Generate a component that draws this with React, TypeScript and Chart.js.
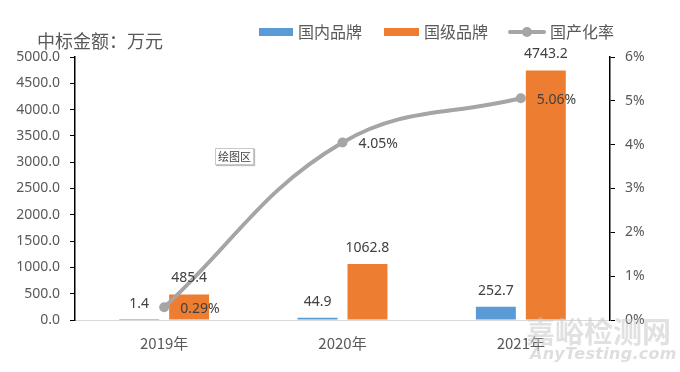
import React, { useEffect, useRef } from "react";
import { Chart, registerables } from "chart.js";

Chart.register(...registerables);

const categories = ["2019年", "2020年", "2021年"];
const domesticBrand = [1.4, 44.9, 252.7];
const nationalBrand = [485.4, 1062.8, 4743.2];
const localizationRate = [0.29, 4.05, 5.06];
const seriesNames = ["国内品牌", "国级品牌", "国产化率"];
const yTitle = "中标金额：万元";

const BLUE = "#5B9BD5";
const ORANGE = "#ED7D31";
const GRAY = "#A5A5A5";
const NUM_FONT = '"Noto Sans", "Open Sans", sans-serif';
const CJK_FONT = '"Noto Sans CJK SC", "Noto Sans", sans-serif';

const valueLabels = {
  id: "valueLabels",
  afterDatasetsDraw(chart: any) {
    const ctx = chart.ctx;
    ctx.save();
    ctx.font = `14px ${NUM_FONT}`;
    ctx.fillStyle = "#404040";
    ctx.textBaseline = "middle";
    chart.data.datasets.forEach((ds: any, i: number) => {
      const meta = chart.getDatasetMeta(i);
      meta.data.forEach((el: any, j: number) => {
        const v = ds.data[j];
        if (ds.type === "line") {
          ctx.textAlign = "left";
          ctx.fillText(v.toFixed(2) + "%", el.x + 16, el.y + 2);
        } else {
          ctx.textAlign = "center";
          ctx.fillText(v.toFixed(1), el.x, el.y - 16);
        }
      });
    });
    ctx.restore();
  },
};

const legendAndTitle = {
  id: "legendAndTitle",
  afterDraw(chart: any) {
    const ctx = chart.ctx;
    ctx.save();
    ctx.textBaseline = "middle";
    ctx.textAlign = "left";
    ctx.fillStyle = "#595959";
    ctx.font = `18px ${CJK_FONT}`;
    ctx.fillText(yTitle, 37, 41);

    ctx.font = `16px ${CJK_FONT}`;
    const y = 32;
    // item 1
    ctx.fillStyle = BLUE;
    ctx.fillRect(259, y - 4, 34, 8);
    ctx.fillStyle = "#595959";
    ctx.fillText(seriesNames[0], 298, y);
    // item 2
    ctx.fillStyle = ORANGE;
    ctx.fillRect(384, y - 4, 35, 8);
    ctx.fillStyle = "#595959";
    ctx.fillText(seriesNames[1], 424, y);
    // item 3
    ctx.strokeStyle = GRAY;
    ctx.lineWidth = 4;
    ctx.lineCap = "round";
    ctx.beginPath();
    ctx.moveTo(510, y);
    ctx.lineTo(544, y);
    ctx.stroke();
    ctx.fillStyle = GRAY;
    ctx.beginPath();
    ctx.arc(527, y, 5, 0, Math.PI * 2);
    ctx.fill();
    ctx.fillStyle = "#595959";
    ctx.fillText(seriesNames[2], 550, y);
    ctx.restore();
  },
};

export default function App() {
  const ref = useRef<HTMLCanvasElement>(null);

  useEffect(() => {
    if (!ref.current) return;
    const chart = new Chart(ref.current, {
      type: "bar",
      data: {
        labels: categories,
        datasets: [
          {
            type: "line",
            label: seriesNames[2],
            data: localizationRate,
            yAxisID: "y1",
            borderColor: GRAY,
            backgroundColor: GRAY,
            borderWidth: 4,
            pointRadius: 5,
            pointBackgroundColor: GRAY,
            pointBorderWidth: 0,
            tension: 0.4,
            order: 0,
          } as any,
          {
            type: "bar",
            label: seriesNames[0],
            data: domesticBrand,
            yAxisID: "y",
            backgroundColor: BLUE,
            barPercentage: 0.8,
            categoryPercentage: 0.56,
            order: 1,
          },
          {
            type: "bar",
            label: seriesNames[1],
            data: nationalBrand,
            yAxisID: "y",
            backgroundColor: ORANGE,
            barPercentage: 0.8,
            categoryPercentage: 0.56,
            order: 1,
          },
        ],
      },
      options: {
        animation: false,
        responsive: false,
        maintainAspectRatio: false,
        layout: { padding: { top: 57, left: 0, right: 0, bottom: 0 } },
        plugins: {
          legend: { display: false },
          title: { display: false },
          tooltip: { enabled: false },
        },
        scales: {
          x: {
            grid: { display: false, drawTicks: false },
            border: { display: true, color: "#D9D9D9", width: 1 },
            ticks: {
              color: "#595959",
              font: { size: 15, family: CJK_FONT },
              padding: 14,
            },
            afterFit(scale: any) {
              scale.height = 52;
            },
          },
          y: {
            position: "left",
            min: 0,
            max: 5000,
            ticks: {
              stepSize: 500,
              color: "#595959",
              font: { size: 14, family: NUM_FONT },
              padding: 10,
              callback: (v: any) => Number(v).toFixed(1),
            },
            grid: {
              drawOnChartArea: false,
              drawTicks: true,
              tickLength: 5,
              color: "#000000",
            },
            border: { display: true, color: "#000000", width: 1.5 },
            afterFit(scale: any) {
              scale.width = 75;
            },
          },
          y1: {
            position: "right",
            min: 0,
            max: 6,
            ticks: {
              stepSize: 1,
              color: "#595959",
              font: { size: 14, family: NUM_FONT },
              padding: 10,
              callback: (v: any) => Number(v).toFixed(0) + "%",
            },
            grid: {
              drawOnChartArea: false,
              drawTicks: true,
              tickLength: 5,
              color: "#000000",
            },
            border: { display: true, color: "#000000", width: 1.5 },
            afterFit(scale: any) {
              scale.width = 70;
            },
          },
        },
      },
      plugins: [valueLabels, legendAndTitle],
    });
    return () => chart.destroy();
  }, []);

  return (
    <div style={{ position: "absolute", left: 0, top: 0, width: 680, height: 372, background: "#fff" }}>
      <canvas ref={ref} width={680} height={372} style={{ display: "block" }} />
      <div
        style={{
          position: "absolute",
          left: 215,
          top: 148,
          padding: "0 2px",
          height: 15,
          lineHeight: "15px",
          fontSize: 11,
          fontFamily: CJK_FONT,
          color: "#404040",
          background: "#fff",
          border: "1px solid #C8C8C8",
          boxShadow: "1px 1px 1px #BDBDBD",
        }}
      >
        绘图区
      </div>
      <div
        style={{
          position: "absolute",
          left: 526,
          top: 312,
          fontSize: 29,
          fontWeight: 700,
          fontFamily: CJK_FONT,
          color: "rgba(200,200,200,0.55)",
          letterSpacing: 0,
          lineHeight: "36px",
          pointerEvents: "none",
        }}
      >
        嘉峪检测网
      </div>
      <div
        style={{
          position: "absolute",
          left: 530,
          top: 345,
          fontSize: 16,
          fontStyle: "italic",
          fontWeight: 700,
          fontFamily: '"DejaVu Sans", sans-serif',
          color: "rgba(200,200,200,0.6)",
          lineHeight: "18px",
          letterSpacing: 0.3,
          pointerEvents: "none",
        }}
      >
        AnyTesting.com
      </div>
    </div>
  );
}
